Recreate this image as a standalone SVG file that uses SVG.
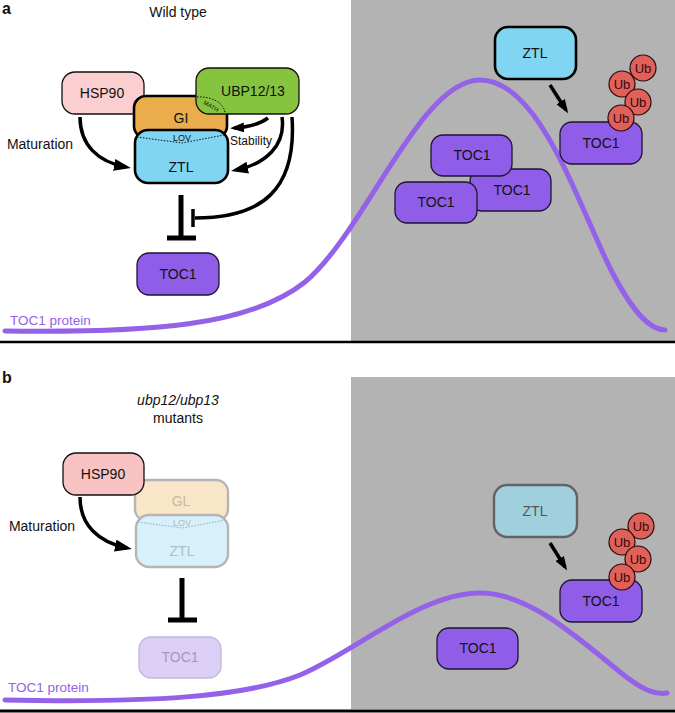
<svg xmlns="http://www.w3.org/2000/svg" width="675" height="713" viewBox="0 0 675 713">
<defs>
<style>
text{font-family:"Liberation Sans",Arial,sans-serif;text-anchor:middle;fill:#111}
.lbl{font-size:14px}
.pl{font-weight:bold;font-size:16px;text-anchor:start}
.curve{fill:none;stroke:#9462e8;stroke-width:5;stroke-linecap:round}
.arr{fill:none;stroke:#000;stroke-width:3.5}
.inh{fill:none;stroke:#000;stroke-width:5}
.toc{fill:#8f5de8;stroke:#1e1530;stroke-width:1.3}
.ub{fill:#e0605a;stroke:#2a0a0a;stroke-width:1.2}
.ubt{font-size:13px;fill:#3a0a0a}
</style>
<marker id="ah" markerWidth="17" markerHeight="12" refX="12" refY="6" orient="auto" markerUnits="userSpaceOnUse"><path d="M0,0 L17,6 L0,12 z" fill="#000"/></marker>
<marker id="ahs" markerWidth="14" markerHeight="10" refX="10" refY="5" orient="auto" markerUnits="userSpaceOnUse"><path d="M0,0 L14,5 L0,10 z" fill="#000"/></marker>
</defs>
<rect width="675" height="713" fill="#fff"/>
<!-- backgrounds -->
<rect x="351" y="0" width="324" height="341" fill="#b3b3b3"/>
<rect x="351" y="377" width="324" height="332" fill="#b3b3b3"/>
<line x1="0" y1="342" x2="675" y2="342" stroke="#000" stroke-width="2.5"/>
<line x1="0" y1="711" x2="675" y2="711" stroke="#000" stroke-width="3"/>
<text class="pl" x="2" y="14">a</text>
<text class="pl" x="2" y="383">b</text>
<text x="178" y="17" style="font-size:14px">Wild type</text>
<text x="178" y="405" style="font-size:14px;font-style:italic">ubp12/ubp13</text>
<text x="178" y="423" style="font-size:14px">mutants</text>

<!-- curves -->
<g id="curves">
<path class="curve" d="M5,331 C150,333 250,326 305,282 C365,232 420,80 480,80 C540,80 578,205 612,272 C636,318 652,330 665,330"/>
<text x="10" y="325" style="font-size:13.5px;fill:#9462e8;text-anchor:start">TOC1 protein</text>
<path class="curve" d="M5,700 C150,703 245,697 300,675 C355,652 420,593 480,593 C530,593 580,640 620,672 C642,690 655,695 667,693"/>
<text x="8" y="692" style="font-size:13.5px;fill:#9462e8;text-anchor:start">TOC1 protein</text>
</g>

<!-- Panel a nodes -->
<g id="a-hsp90"><rect x="62" y="72" width="82" height="42" rx="13" fill="#fbcfcf" stroke="#111" stroke-width="1.3"/><text class="lbl" x="102" y="98">HSP90</text></g>
<g id="a-gi"><rect x="134" y="96" width="93" height="42" rx="12" fill="#eaad4b" stroke="#000" stroke-width="2.6"/><text class="lbl" x="181" y="123">GI</text></g>
<g id="a-ubp"><rect x="196" y="68" width="103" height="46" rx="13" fill="#86c440" stroke="#111" stroke-width="1.3"/><text class="lbl" x="253" y="96">UBP12/13</text>
<path d="M197,97 C210,96 224,102 225,113" fill="none" stroke="#111" stroke-width="1" stroke-dasharray="1.5,1.5"/>
<text x="210" y="108" transform="rotate(30 210 108)" style="font-size:6px">MATH</text></g>
<g id="a-ztl"><rect x="135" y="130" width="93" height="53" rx="13" fill="#7fd5f2" stroke="#000" stroke-width="2.6"/>
<path d="M137,137 L182,143 L224,135" fill="none" stroke="#111" stroke-width="1" stroke-dasharray="1.5,1.5"/>
<text x="182" y="141" style="font-size:9px">LOV</text>
<text class="lbl" x="181" y="172">ZTL</text></g>
<g id="a-toc1"><rect class="toc" x="137" y="253" width="82" height="42" rx="12"/><text class="lbl" x="178" y="279">TOC1</text></g>
<g id="a-labels"><text x="40" y="149" style="font-size:14px">Maturation</text><text x="251" y="145" style="font-size:12px">Stability</text></g>

<!-- Panel a right nodes -->
<g id="a-ztl2"><rect x="495" y="27" width="81" height="52" rx="13" fill="#7fd5f2" stroke="#000" stroke-width="2.6"/><text class="lbl" x="535" y="58">ZTL</text></g>
<g id="a-toc1-r"><rect class="toc" x="470" y="169" width="81" height="42" rx="12"/><text class="lbl" x="512" y="195">TOC1</text></g>
<g id="a-toc1-t"><rect class="toc" x="431" y="135" width="81" height="41" rx="12"/><text class="lbl" x="472" y="160">TOC1</text></g>
<g id="a-toc1-l"><rect class="toc" x="395" y="182" width="82" height="41" rx="12"/><text class="lbl" x="436" y="207">TOC1</text></g>
<g id="a-toc1-ub"><rect class="toc" x="560" y="122" width="82" height="42" rx="12"/><text class="lbl" x="601" y="148">TOC1</text>
<circle class="ub" cx="643" cy="68" r="13"/><text class="ubt" x="643" y="72.5">Ub</text>
<circle class="ub" cx="622" cy="84" r="13"/><text class="ubt" x="622" y="88.5">Ub</text>
<circle class="ub" cx="638" cy="102" r="13"/><text class="ubt" x="638" y="106.5">Ub</text>
<circle class="ub" cx="621" cy="118" r="13"/><text class="ubt" x="621" y="122.5">Ub</text></g>

<!-- Panel b nodes -->
<g id="b-gl"><rect x="135" y="480" width="93" height="41" rx="12" fill="#f9e5c8" stroke="#b5b5b5" stroke-width="2.4"/><text class="lbl" x="181" y="506" style="fill:#c9b89c">GL</text></g>
<g id="b-hsp90"><rect x="63" y="453" width="81" height="42" rx="13" fill="#f9c3c3" stroke="#111" stroke-width="1.3"/><text class="lbl" x="103" y="479">HSP90</text></g>
<g id="b-ztl"><rect x="136" y="515" width="92" height="52" rx="13" fill="#d7f0fa" stroke="#b5b5b5" stroke-width="2.4"/>
<path d="M138,522 L182,528 L225,520" fill="none" stroke="#9ab" stroke-width="1" stroke-dasharray="1.5,1.5"/>
<text x="182" y="526" style="font-size:9px;fill:#a8bcc6">LOV</text>
<text class="lbl" x="182" y="556" style="fill:#a8c0ca">ZTL</text></g>
<g id="b-toc1"><rect x="139" y="637" width="82" height="41" rx="12" fill="#dccff6" stroke="#c2b6dc" stroke-width="1.3"/><text class="lbl" x="180" y="662" style="fill:#a595c4">TOC1</text></g>
<text x="42" y="531" style="font-size:14px">Maturation</text>
<g id="b-toc1-m"><rect class="toc" x="437" y="628" width="81" height="41" rx="12"/><text class="lbl" x="478" y="653">TOC1</text></g>
<g id="b-ztl2"><rect x="494" y="485" width="83" height="52" rx="13" fill="#a0d0de" stroke="#636363" stroke-width="2.4"/><text class="lbl" x="535" y="516" style="fill:#555">ZTL</text></g>
<g id="b-toc1-ub"><rect class="toc" x="560" y="580" width="82" height="42" rx="12"/><text class="lbl" x="601" y="606">TOC1</text>
<circle class="ub" cx="641" cy="526" r="13"/><text class="ubt" x="641" y="530.5">Ub</text>
<circle class="ub" cx="622" cy="542" r="13"/><text class="ubt" x="622" y="546.5">Ub</text>
<circle class="ub" cx="638" cy="559" r="13"/><text class="ubt" x="638" y="563.5">Ub</text>
<circle class="ub" cx="622" cy="577" r="13"/><text class="ubt" x="622" y="581.5">Ub</text></g>

<!-- connectors -->
<g id="connectors">
<path class="arr" d="M80,117 C80,145 98,162 126,167" marker-end="url(#ah)"/>
<path class="arr" d="M268,118 C260,124 250,127 234,128" marker-end="url(#ahs)"/>
<path class="arr" d="M282,117 C286,145 266,164 236,170" marker-end="url(#ah)"/>
<path class="arr" d="M292,117 C297,190 262,218 195,218"/>
<line class="arr" x1="193" y1="209" x2="193" y2="227"/>
<line class="inh" x1="181" y1="195" x2="181" y2="238"/>
<line class="inh" x1="167" y1="238" x2="196" y2="238"/>
<path class="arr" d="M550,85 L566,110" stroke-width="3" marker-end="url(#ahs)"/>
<path class="arr" d="M80,497 C80,525 98,542 127,548" marker-end="url(#ah)"/>
<line class="inh" x1="182" y1="578" x2="182" y2="620"/>
<line class="inh" x1="168" y1="620" x2="197" y2="620"/>
<path class="arr" d="M550,543 L565,567" stroke-width="3" marker-end="url(#ahs)"/>
</g>
</svg>
